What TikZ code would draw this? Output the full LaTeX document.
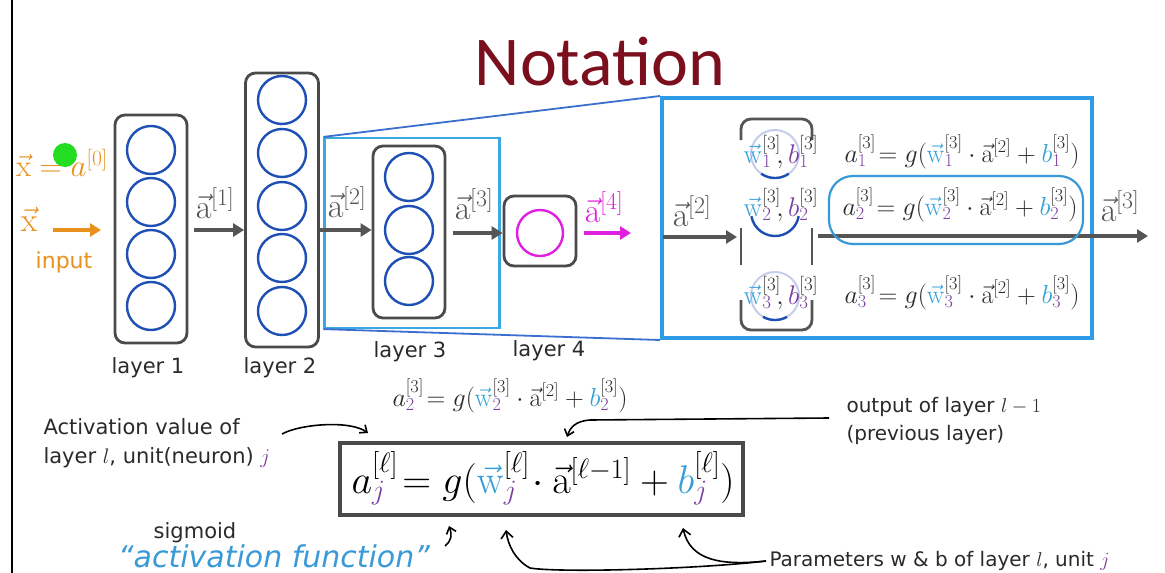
\RequirePackage{fix-cm}
\documentclass[tikz,border=0pt]{standalone}
\usepackage[no-math]{fontspec}
\setmainfont{DejaVu Sans}
\newfontfamily\titlefont{Carlito}
\usetikzlibrary{arrows.meta,calc}
\definecolor{titlered}{HTML}{7B0F1E}
\definecolor{boxgray}{HTML}{4A4A4A}
\definecolor{arrowgray}{HTML}{555555}
\definecolor{textgray}{HTML}{2A2A2A}
\definecolor{neuronblue}{HTML}{1E4FB5}
\definecolor{fadeblue}{HTML}{C5CDEB}
\definecolor{hlblue}{HTML}{3BA8E0}
\definecolor{projblue}{HTML}{3A6FD0}
\definecolor{bigblue}{HTML}{2E9BE6}
\definecolor{handblue}{HTML}{3A9AD8}
\definecolor{wblue}{HTML}{35A0D8}
\definecolor{ppl}{HTML}{7B3FA0}
\definecolor{xorange}{HTML}{E8911C}
\definecolor{magent}{HTML}{E020E0}
\definecolor{laser}{HTML}{22DD22}
\newcommand{\myW}{\textcolor{wblue}{\vec{\mathrm{w}}}}
\newcommand{\myP}[1]{\textcolor{ppl}{#1}}
\newcommand{\myB}{\textcolor{wblue}{b}}
\newcommand{\myA}{\vec{\mathrm{a}}}
\tikzset{
  layerbox/.style={draw=boxgray, line width=2.8pt, rounded corners=10pt, inner sep=0pt},
  neuron/.style={circle, draw=neuronblue, line width=2.4pt, minimum size=48pt, inner sep=0pt},
  fring/.style={draw=fadeblue, line width=2pt},
  darc/.style={draw=neuronblue, line width=2.4pt},
  flow/.style={draw=arrowgray, line width=3.5pt, -{Triangle[length=11pt,width=13pt]}},
  lbl/.style={font=\fontsize{21}{24}\selectfont, text=textgray},
  vlab/.style={font=\fontsize{34}{36}\selectfont, text=arrowgray},
  eqn/.style={font=\fontsize{26}{28}\selectfont, text=textgray},
  hand/.style={draw=black, line width=1.6pt},
}
\begin{document}
\begin{tikzpicture}[x=1pt,y=-1pt]
\useasboundingbox (0,0) rectangle (1165,573);
\fill[white] (0,0) rectangle (1165,573);
\draw[black, line width=1.2pt] (12,0) -- (12,573);

% title
\node[font=\titlefont\fontsize{70}{72}\selectfont, text=titlered] (title) at (600,62) {Notation};

% input
\node[text=xorange, font=\fontsize{31}{34}\selectfont] (x0) at (62,163) {$\vec{\mathrm{x}} = a^{[0]}$};
\node[circle, fill=laser, minimum size=24pt, inner sep=0pt] (dot) at (65,155) {};
\node[text=xorange, font=\fontsize{34}{36}\selectfont] (xin) at (29,219) {$\vec{\mathrm{x}}$};
\node[text=xorange, font=\fontsize{22}{24}\selectfont] (inp) at (64,262) {input};
\coordinate (xs) at (53,230);
\coordinate (xe) at (101,230);
\draw[draw=xorange, line width=3.5pt, -{Triangle[length=11pt,width=13pt]}] (xs) -- (xe);

% layer 1
\node[layerbox, minimum width=72pt, minimum height=228pt] (L1) at (151,229) {};
\foreach \i/\y in {1/150,2/202,3/254,4/306} \node[neuron] (n1\i) at (151,\y) {};
% layer 2
\node[layerbox, minimum width=73pt, minimum height=274pt] (L2) at (282,210) {};
\foreach \i/\y in {1/100,2/153,3/206,4/258,5/311} \node[neuron] (n2\i) at (282,\y) {};
% layer 3 highlight + projection
\node[draw=hlblue, line width=2.2pt, minimum width=175pt, minimum height=190pt, inner sep=0pt] (hl3) at (412,233) {};
\node[draw=bigblue, line width=4pt, minimum width=430pt, minimum height=240pt, inner sep=0pt] (big) at (877,218) {};
\draw[projblue, line width=1.8pt] (hl3.north west) -- (big.north west);
\draw[projblue, line width=1.8pt] (hl3.south west) -- (big.south west);
% layer 3
\node[layerbox, minimum width=72pt, minimum height=172pt] (L3) at (409,232) {};
\foreach \i/\y in {1/177,2/230,3/281} \node[neuron] (n3\i) at (409,\y) {};
% layer 4
\node[layerbox, minimum width=72pt, minimum height=70pt] (L4) at (540,231) {};
\node[circle, draw=magent, line width=2.4pt, minimum size=46pt, inner sep=0pt] (n41) at (540,233) {};

% arrows between layers
\draw[flow] (L1.east |- 0,230) ++(6,0) coordinate (a1s) -- (L2.west |- 0,230);
\node[vlab] (la1) at (215,203) {$\myA^{[1]}$};
\draw[flow] (L2.east |- 0,230) -- (L3.west |- 0,230);
\node[vlab] (la2) at (347,202) {$\myA^{[2]}$};
\draw[flow] (L3.east |- 0,233) ++(7,0) -- (L4.west |- 0,233);
\node[vlab] (la3) at (474,204) {$\myA^{[3]}$};
\coordinate (a4s) at (584,233);
\coordinate (a4e) at (631,233);
\draw[draw=magent, line width=3.5pt, -{Triangle[length=11pt,width=13pt]}] (a4s) -- (a4e);
\node[vlab, text=magent] (la4) at (604,207) {$\myA^{[4]}$};

% layer labels
\node[lbl] (t1) at (148,368) {layer 1};
\node[lbl] (t2) at (280,368) {layer 2};
\node[lbl] (t3) at (410,352) {layer 3};
\node[lbl] (t4) at (549,351) {layer 4};

% zoomed layer
\draw[arrowgray, line width=2.8pt, rounded corners=10pt] (741,140) -- (741,119) -- (812,119) -- (812,140);
\draw[arrowgray, line width=2.8pt] (741,228) -- (741,265) (812,228) -- (812,265);
\draw[arrowgray, line width=2.8pt, rounded corners=10pt] (741,300) -- (741,330) -- (812,330) -- (812,300);
\coordinate (z1) at (775,154);
\coordinate (z2) at (775,212);
\coordinate (z3) at (775,296);
\draw[fring] (z1) circle[radius=24pt];
\draw[fring] (z3) circle[radius=24pt];
\draw[darc] ($(z1)+(-13.8,19.7)$) arc[start angle=235, end angle=305, radius=24pt];
\draw[darc] ($(z2)+(-23.6,4.2)$) arc[start angle=190, end angle=350, radius=24pt];
\draw[darc] ($(z3)+(-12,20.8)$) arc[start angle=240, end angle=300, radius=24pt];
\coordinate (za) at (663,237);
\draw[flow] (za) -- (737,237);
\node[vlab] (lza) at (692,211) {$\myA^{[2]}$};
\coordinate (zo) at (818,236);
\coordinate (ze) at (1148,236);
\draw[flow] (zo) -- (ze);
\node[vlab] (lzo) at (1120,206) {$\myA^{[3]}$};

\draw[draw=handblue, line width=2.2pt, rounded corners=24pt] (829,176) rectangle (1083,244);

\node[eqn, font=\fontsize{27}{30}\selectfont] (p1) at (781,152) {$\myW_{\myP{1}}^{[3]}\!,\myP{b}_{\myP{1}}^{[3]}$};
\node[eqn, font=\fontsize{27}{30}\selectfont] (p2) at (781,205) {$\myW_{\myP{2}}^{[3]}\!,\myP{b}_{\myP{2}}^{[3]}$};
\node[eqn, font=\fontsize{27}{30}\selectfont] (p3) at (781,293) {$\myW_{\myP{3}}^{[3]}\!,\myP{b}_{\myP{3}}^{[3]}$};
\node[eqn] (e1) at (962,152) {$a_{\myP{1}}^{[3]}\!= g(\myW_{\myP{1}}^{[3]}\cdot\myA^{[2]}+\myB_{\myP{1}}^{[3]})$};
\node[eqn] (e2) at (960,205) {$a_{\myP{2}}^{[3]}\!= g(\myW_{\myP{2}}^{[3]}\cdot\myA^{[2]}+\myB_{\myP{2}}^{[3]})$};
\node[eqn] (e3) at (962,293) {$a_{\myP{3}}^{[3]}\!= g(\myW_{\myP{3}}^{[3]}\cdot\myA^{[2]}+\myB_{\myP{3}}^{[3]})$};

% lower part
\node[eqn, font=\fontsize{26}{28}\selectfont] (e4) at (510,396) {$a_{\myP{2}}^{[3]}\!= g(\myW_{\myP{2}}^{[3]}\cdot\myA^{[2]}+\myB_{\myP{2}}^{[3]})$};
\node[lbl, align=left, anchor=west, font=\fontsize{21}{29}\selectfont] (act) at (40,443) {Activation value of\\layer $l$, unit(neuron) $\myP{j}$};
\node[lbl, align=left, anchor=west, font=\fontsize{20}{28}\selectfont] (outp) at (843,421) {output of layer $l-1$\\(previous layer)};
\node[draw=boxgray, line width=4pt, minimum width=403pt, minimum height=72pt, inner sep=0pt] (fbox) at (541,479) {};
\node[font=\fontsize{40}{44}\selectfont] (f) at (543,478) {$a_{\myP{j}}^{[\ell]}\!= g(\myW_{\myP{j}}^{[\ell]}\!\cdot\myA^{[\ell-1]}+\myB_{\myP{j}}^{[\ell]})$};
\node[lbl] (sig) at (195,533) {sigmoid};
\node[text=handblue, font=\itshape\fontsize{30}{32}\selectfont] (actf) at (274,556) {``activation function''};
\node[lbl, anchor=west, font=\fontsize{20}{24}\selectfont] (par) at (766,561) {Parameters w \& b of layer $l$, unit $\myP{j}$};

% hand-drawn arrows
\draw[hand, -{Straight Barb[length=6pt,width=10pt]}] (282,434) .. controls (300,424) and (350,420) .. (368,433);
\draw[hand, -{Straight Barb[length=6pt,width=10pt]}] (829,418) -- (590,420) .. controls (575,421) and (570,428) .. (567,437);
\draw[hand, -{Straight Barb[length=6pt,width=10pt]}] (445,546) .. controls (452,540) and (452,535) .. (449,526);
\draw[hand, -{Straight Barb[length=7pt,width=12pt]}] (par.west) .. controls (700,569) and (560,573) .. (530,568) .. controls (515,560) and (508,545) .. (506,530);
\draw[hand, -{Straight Barb[length=7pt,width=12pt]}] (par.west) .. controls (720,566) and (690,560) .. (683,528);
\end{tikzpicture}
\end{document}
